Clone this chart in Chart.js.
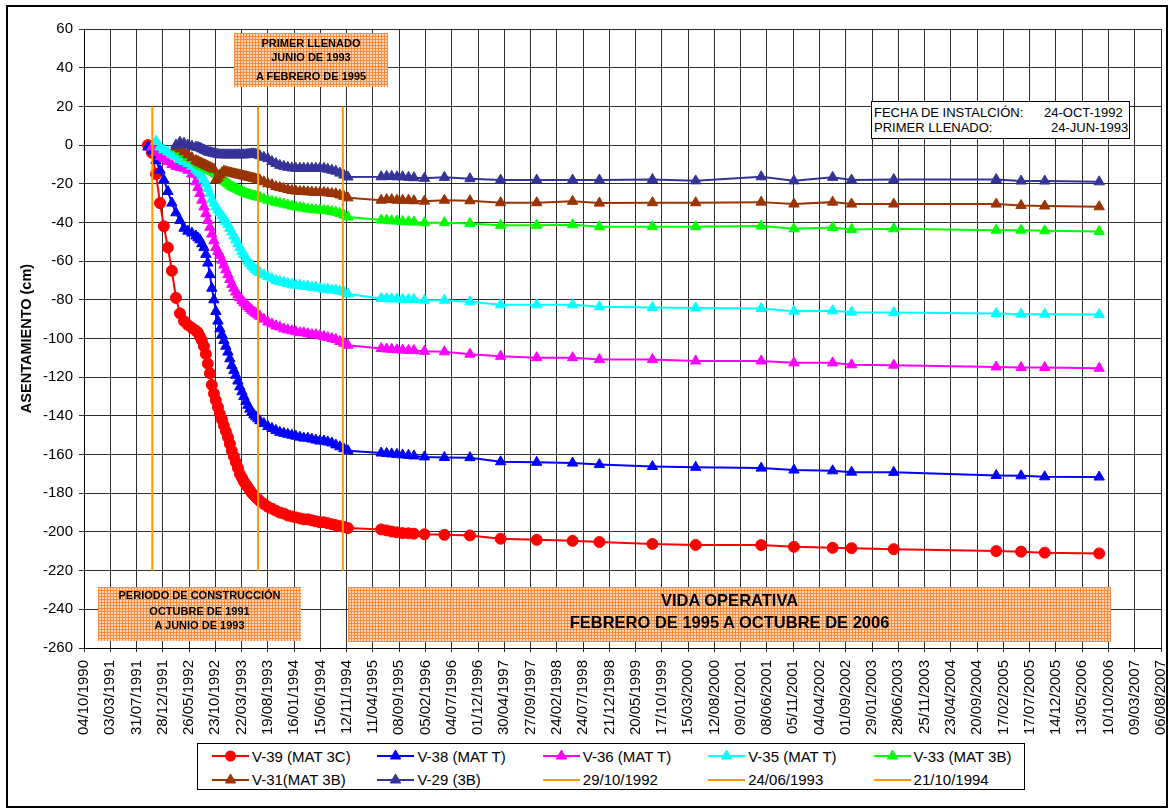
<!DOCTYPE html>
<html>
<head>
<meta charset="utf-8">
<script src="https://cdn.jsdelivr.net/npm/chart.js@4/dist/chart.umd.min.js"></script>
<style>
  html, body { margin:0; padding:0; background:#fff; }
  #wrap { position:relative; width:1171px; height:812px; background:#fff; overflow:hidden;
          font-family:'Liberation Sans', Arial, sans-serif; }
  #c { position:absolute; left:0; top:0; }
  .frame { position:absolute; left:6px; top:5px; width:1162px; height:803px; box-sizing:border-box;
           border:2px solid #000; pointer-events:none; }
  .hatch { position:absolute; box-sizing:border-box;
           background-color:rgba(252,211,179,0.92);
           background-image:linear-gradient(rgba(245,138,60,0.95) 1px, transparent 1px),
                            linear-gradient(90deg, rgba(245,138,60,0.95) 1px, transparent 1px);
           background-size:3px 3px; color:#000; font-weight:bold; }
  .hatch div { position:absolute; left:0; right:0; text-align:center; white-space:nowrap; line-height:1; }
  .info { position:absolute; left:871px; top:101px; width:259px; height:38px; box-sizing:border-box;
          border:1px solid #000; background:#fff; font-size:13px; color:#000; }
  .info div { position:absolute; white-space:nowrap; line-height:1; }
  #legend { position:absolute; left:197px; top:743px; width:828px; height:47px; box-sizing:border-box;
            border:1px solid #000; background:#fff; }
  .li { position:absolute; height:16px; display:flex; align-items:center; font-size:15px; color:#000; white-space:nowrap; }
  .li svg { margin-right:3px; flex:none; }
</style>
</head>
<body>
<div id="wrap">
  <canvas id="c" width="1171" height="812"></canvas>

  <div class="hatch" style="left:234px;top:33px;width:154px;height:54px;font-size:11px;">
    <div style="top:5px;">PRIMER LLENADO</div>
    <div style="top:19px;">JUNIO DE 1993</div>
    <div style="top:38px;">A FEBRERO DE 1995</div>
  </div>

  <div class="hatch" style="left:98px;top:587px;width:203px;height:54px;font-size:11px;">
    <div style="top:3px;">PERIODO DE CONSTRUCCIÓN</div>
    <div style="top:19px;">OCTUBRE DE 1991</div>
    <div style="top:33px;">A JUNIO DE 1993</div>
  </div>

  <div class="hatch" style="left:348px;top:587px;width:763px;height:55px;font-size:16.5px;">
    <div style="top:5px;">VIDA OPERATIVA</div>
    <div style="top:27px;">FEBRERO DE 1995 A OCTUBRE DE 2006</div>
  </div>

  <div class="info">
    <div style="left:2px;top:4px;">FECHA DE INSTALCIÓN:</div>
    <div style="left:172px;top:4px;">24-OCT-1992</div>
    <div style="left:2px;top:19px;">PRIMER LLENADO:</div>
    <div style="left:179px;top:19px;">24-JUN-1993</div>
  </div>

  <div id="legend"></div>
  <div class="frame"></div>
</div>

<script>
// ---------------- DATA ----------------
// Reading dates as Excel date serials (days since 30/12/1899)
const fechas = [
  // construction / first filling (dense readings)
  33515, 33538, 33561, 33584, 33606, 33629, 33652, 33675, 33698, 33721, 33743, 33766, 33789,
  33801, 33812, 33823, 33835, 33846, 33857, 33869, 33880, 33892, 33903,
  33915, 33926, 33938, 33949, 33960, 33972, 33983, 33994, 34006, 34017,
  34029, 34040, 34052, 34063, 34075, 34086, 34097, 34109, 34120, 34131,
  34143, 34154,
  34177, 34200, 34223, 34246, 34268, 34291, 34314, 34337, 34360, 34383, 34405,
  34428, 34451, 34474, 34497, 34520, 34542, 34565, 34588, 34611, 34634, 34657,
  // operating life
  34847, 34878, 34907, 34937, 34969, 35003, 35034, 35094, 35208, 35354,
  35529, 35735, 35940, 36093, 36396, 36643, 37017, 37204, 37425, 37533,
  37774, 38359, 38501, 38636, 38947
];

// Settlement (cm)
const v39 = [
  0, -4, -15, -30, -42, -53, -65, -79, -87, -91, -93, -94.5, -96,
  -97, -99, -101, -104, -108, -113, -118, -124, -128.5, -132,
  -135.5, -139, -142, -145, -148, -151, -154.5, -158, -161, -164,
  -167, -170, -172, -174, -175.5, -177, -178.5, -180, -181, -182,
  -183, -184,
  -185.5, -187, -188, -189, -190, -190.5, -191.5, -192, -192.5, -193, -193.5,
  -193.5, -194, -194.5, -195, -195, -195.5, -196, -196.5, -197, -197.5, -198,
  -198.7, -199.2, -199.8, -200.2, -200.6, -200.7, -200.9, -201.2, -201.5, -201.8,
  -203.5, -204.1, -204.6, -205.2, -206.2, -206.7, -206.8, -207.7, -208.2, -208.4,
  -208.9, -209.9, -210.2, -210.7, -211.1
];
const v38 = [
  -1, -3, -8, -13, -18, -24, -30, -35, -39, -43, -44.5, -45.5, -47,
  -48, -49, -51, -53, -56.5, -61, -67, -74, -80, -86,
  -91, -95, -98, -101, -104, -107, -110.5, -114, -116.5, -119,
  -122, -125, -127.5, -130, -132.5, -134.5, -136.5, -138, -139.5, -140.5,
  -141.5, -142.5,
  -144, -145.5, -146.5, -147.5, -148.5, -149, -149.5, -150, -150.5, -151, -151.5,
  -151.5, -152, -152.5, -153, -153, -153.5, -154, -155, -156, -157, -158,
  -159.2, -159.4, -159.7, -159.9, -160.2, -160.4, -160.7, -161.2, -161.5, -161.6,
  -163.7, -164, -164.4, -165.2, -166.2, -166.6, -167, -168, -168.4, -169.1,
  -169.2, -170.8, -171, -171.5, -171.6
];
const v36 = [
  null, -1, -4, -6, -7, -8.5, -10, -11, -11.5, -12, -13, -15, -19,
  -22, -25, -28.5, -32, -35.5, -39, -42.5, -46, -49.5, -53,
  -55, -57, -59.5, -62, -64.5, -67, -69.5, -72, -74, -76,
  -77.5, -79, -80.3, -81.5, -82.5, -83.5, -84.5, -85.5, -86.3, -87,
  -87.8, -88.5,
  -90, -91.5, -92.5, -93.5, -94, -95, -95.5, -96, -96.5, -97, -97,
  -97.5, -98, -98, -98.5, -99, -99.5, -100, -100.5, -101.5, -102.5, -103.5,
  -105.2, -105.4, -105.6, -105.8, -106, -106.1, -106.2, -106.6, -106.9, -108.1,
  -109.2, -109.9, -109.9, -110.9, -110.9, -111.6, -111.6, -112.6, -112.6, -113.6,
  -113.8, -114.7, -115, -115, -115.4
];
const v35 = [
  null, null, 2, -1, -2.5, -3.5, -5, -6, -7.5, -8.5, -9.5, -11, -12.5,
  -13.5, -14.5, -16, -18, -20, -22.5, -25, -28, -30, -32,
  -33.5, -35, -36.5, -38, -39.5, -41, -43, -45, -47, -49,
  -51, -53, -55, -56.5, -58.3, -60, -61.3, -62.5, -63.5, -64.5,
  -65.3, -66,
  -67, -68, -69, -70, -70.5, -71, -71.5, -72, -72.5, -72.5, -73,
  -73, -73.5, -73.5, -74, -74.5, -74.5, -75, -75, -75.5, -76, -77,
  -79.3, -79.3, -79.5, -79.5, -79.7, -79.8, -79.8, -80.2, -80.2, -81,
  -82.6, -82.6, -82.6, -83.6, -84, -84.2, -84.5, -85.9, -85.7, -86.4,
  -86.6, -87.1, -87.4, -87.4, -87.6
];
const v33 = [
  null, null, null, null, null, null, null, -2, -3.5, -5, -6.5, -7.5, -9,
  -9.8, -10.5, -11, -11.5, -12, -12.5, -13, -13.5, -14.2, -15,
  -16, -17, -17.8, -18.5, -19.2, -20, -20.8, -21.5, -22, -22.5,
  -23, -23.5, -24, -24.5, -24.9, -25.3, -25.7, -26, -26.3, -26.5,
  -26.8, -27,
  -27.8, -28.5, -29, -29.5, -30, -30.5, -31, -31.5, -32, -32.3, -32.6,
  -33, -33.2, -33.5, -33.6, -33.8, -34, -34.3, -34.7, -35.3, -36.2, -37.2,
  -38.8, -38.8, -39.2, -39.2, -39.5, -39.6, -39.8, -40.2, -40.1, -40.5,
  -41.5, -41.5, -41.2, -42.2, -42.2, -42.2, -41.9, -43.3, -42.6, -43.6,
  -43.3, -44, -44, -44.3, -44.7
];
const v31 = [
  null, null, null, null, null, null, null, -1, -2, -3.5, -5, -6.5, -8,
  -8.5, -9, -9.5, -10, -10.5, -11, -11.5, -12, -12.5, -18,
  -17, -15.5, -14.3, -13.5, -13.7, -14, -14.3, -14.5, -14.8, -15,
  -15.3, -15.5, -15.8, -16, -16.3, -16.5, -16.8, -17, -17.2, -17.5,
  -17.8, -18,
  -19, -20, -20.5, -21.5, -22, -22.5, -23, -23.5, -23.8, -24, -24,
  -24.2, -24.3, -24.4, -24.5, -24.5, -24.7, -25, -25.2, -25.8, -26.5, -27.3,
  -28.5, -28.2, -28.2, -28.5, -28.5, -28.5, -28.8, -29, -28.5, -28.8,
  -29.8, -29.8, -29.1, -30, -29.8, -29.8, -29.5, -30.5, -29.5, -30.5,
  -30.5, -30.5, -31.2, -31.5, -31.9
];
const v29 = [
  null, null, null, null, null, null, null, 0, 1.5, 1, 0, -0.5, -1,
  -1.2, -1.5, -2, -2.5, -3, -3.5, -3.8, -4, -4.3, -4.5,
  -4.8, -5, -5, -5, -5, -5, -5, -5, -5, -5,
  -5, -5, -5, -5, -5, -4.8, -4.6, -4.5, -4.5, -4.7,
  -5, -5.5,
  -6.3, -7, -8.5, -9.5, -10.5, -11, -11.5, -11.8, -12, -12, -12,
  -12, -12, -12, -12, -12, -12.5, -13, -13.5, -14.5, -15.5, -16.5,
  -16.4, -16.2, -16.2, -16.4, -16.4, -16.7, -16.9, -17.2, -16.7, -17.4,
  -18.1, -18.1, -18.1, -18.1, -17.8, -18.5, -16.4, -18.5, -16.7, -18.1,
  -17.8, -17.8, -18.6, -18.6, -19
];

// Reference date lines (Excel serials) and their legend labels
const lineasFecha = [33540, 34144, 34628];
const lineasEtiquetas = ['29/10/1992', '24/06/1993', '21/10/1994'];
const lineasRango = [20, -220];

// Axis ranges / steps
const xMin = 33150, xMax = 39300, xStep = 150;
const yMin = -260, yMax = 60, yStep = 20;

// ---------------- STYLES ----------------
const series = [
  { label: 'V-39 (MAT 3C)', data: v39, color: '#FF0000', style: 'circle',   r: 5.5 },
  { label: 'V-38 (MAT T)',  data: v38, color: '#0000FF', style: 'triangle', r: 6 },
  { label: 'V-36 (MAT T)',  data: v36, color: '#FF00FF', style: 'triangle', r: 6 },
  { label: 'V-35 (MAT T)',  data: v35, color: '#00FFFF', style: 'triangle', r: 6 },
  { label: 'V-33 (MAT 3B)', data: v33, color: '#00FF00', style: 'triangle', r: 6 },
  { label: 'V-31(MAT 3B)',  data: v31, color: '#993300', style: 'triangle', r: 6 },
  { label: 'V-29 (3B)',     data: v29, color: '#333399', style: 'triangle', r: 6 }
];
const orange = '#FF9900';

function serialToStr(s) {
  const d = new Date(Date.UTC(1899, 11, 30) + Math.round(s) * 86400000);
  const dd = String(d.getUTCDate()).padStart(2, '0');
  const mm = String(d.getUTCMonth() + 1).padStart(2, '0');
  return dd + '/' + mm + '/' + d.getUTCFullYear();
}

const datasets = series.map((s, i) => ({
  label: s.label,
  data: fechas.map((f, j) => ({ x: f, y: s.data[j] })),
  borderColor: s.color,
  backgroundColor: s.color,
  pointBackgroundColor: s.color,
  pointBorderColor: s.color,
  pointStyle: s.style,
  pointRadius: s.r,
  pointBorderWidth: 1,
  borderWidth: 2,
  tension: 0,
  order: 20 - i,
  _style: s.style
}));
lineasFecha.forEach((f, k) => {
  datasets.push({
    label: lineasEtiquetas[k],
    data: [{ x: f, y: lineasRango[0] }, { x: f, y: lineasRango[1] }],
    borderColor: orange,
    backgroundColor: orange,
    borderWidth: 2,
    pointRadius: 0,
    order: 5 - k,
    _style: 'none'
  });
});

Chart.defaults.font.family = "'Liberation Sans', Arial, sans-serif";
Chart.defaults.color = '#000';

const gridColor = 'rgba(0,0,0,0.82)';

const chart = new Chart(document.getElementById('c'), {
  type: 'line',
  data: { datasets },
  options: {
    responsive: false,
    animation: false,
    devicePixelRatio: 1,
    layout: { padding: { left: 8, top: 29, right: 10, bottom: 0 } },
    plugins: { legend: { display: false }, tooltip: { enabled: false } },
    elements: { line: { fill: false } },
    scales: {
      x: {
        type: 'linear',
        min: xMin, max: xMax,
        afterFit: (s) => { s.height = 164; s.paddingLeft = 0; s.paddingRight = 0; },
        ticks: {
          stepSize: xStep, autoSkip: false, maxRotation: 90, minRotation: 90,
          padding: 8, font: { size: 15 }, color: '#000',
          callback: (v) => serialToStr(v)
        },
        grid: { color: gridColor, lineWidth: 1, tickLength: 4 },
        border: { color: '#000', width: 1 }
      },
      y: {
        min: yMin, max: yMax,
        afterFit: (s) => { s.width = 76; s.paddingTop = 0; s.paddingBottom = 0; },
        ticks: { stepSize: yStep, padding: 6, font: { size: 15 }, color: '#000' },
        grid: { color: gridColor, lineWidth: 1, tickLength: 5 },
        border: { color: '#000', width: 1 },
        title: {
          display: true, text: 'ASENTAMIENTO (cm)', color: '#000',
          font: { size: 14.5, weight: 'bold' }, padding: { top: 10, bottom: 0 }
        }
      }
    }
  }
});

// ---------------- HTML LEGEND ----------------
const legend = document.getElementById('legend');
const colW = 165.4;
chart.data.datasets.forEach((ds, i) => {
  const row = Math.floor(i / 5), col = i % 5;
  const item = document.createElement('div');
  item.className = 'li';
  item.style.left = (14 + col * colW) + 'px';
  item.style.top = (row === 0 ? 4 : 27.5) + 'px';
  const c = ds.borderColor;
  let marker = '';
  if (ds._style === 'circle') {
    marker = `<circle cx="18.5" cy="8" r="5.5" fill="${c}"/>`;
  } else if (ds._style === 'triangle') {
    marker = `<polygon points="18.5,2 23.7,11 13.3,11" fill="${c}" stroke="${c}" stroke-width="1"/>`;
  }
  item.innerHTML = `<svg width="37" height="16" viewBox="0 0 37 16"><line x1="0" y1="8" x2="37" y2="8" stroke="${c}" stroke-width="2"/>${marker}</svg><span>${ds.label}</span>`;
  legend.appendChild(item);
});
</script>
</body>
</html>
